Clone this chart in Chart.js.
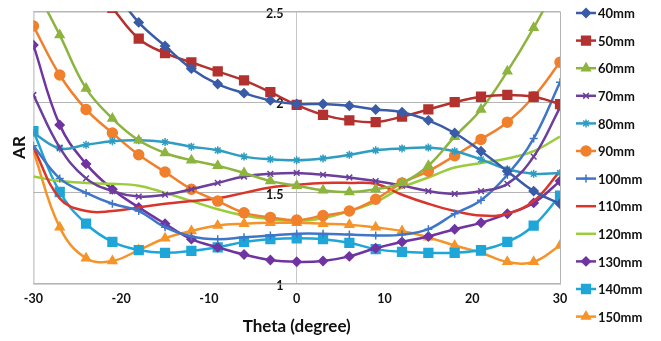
<!DOCTYPE html>
<html>
<head>
<meta charset="utf-8">
<script src="https://cdn.jsdelivr.net/npm/chart.js@4.4.1/dist/chart.umd.min.js"></script>
<style>
    html, body { margin: 0; padding: 0; background: #fff; }
    #wrap { width: 661px; height: 341px; }
</style>
</head>
<body>
<div id="wrap"><canvas id="arChart" width="661" height="341"></canvas></div>
<script>
// theta in degrees, one reading every 3 degrees
const theta = [-30, -27, -24, -21, -18, -15, -12, -9, -6, -3, 0, 3, 6, 9, 12, 15, 18, 21, 24, 27, 30];
const xTicks = [-30, -20, -10, 0, 10, 20, 30];
const yTicks = [1, 1.5, 2, 2.5];

const seriesNames = ['40mm', '50mm', '60mm', '70mm', '80mm', '90mm', '100mm', '110mm', '120mm', '130mm', '140mm', '150mm'];

const ar40 = [3.3, 3.05, 2.85, 2.63, 2.44, 2.31, 2.185, 2.10, 2.05, 2.01, 1.99, 1.99, 1.98, 1.96, 1.945, 1.90, 1.83, 1.73, 1.62, 1.51, 1.44];
const ar50 = [3.1, 2.9, 2.7, 2.52, 2.35, 2.27, 2.22, 2.17, 2.12, 2.055, 1.985, 1.93, 1.90, 1.89, 1.92, 1.96, 2.0, 2.03, 2.04, 2.03, 1.99];
const ar60 = [2.65, 2.37, 2.076, 1.91, 1.79, 1.72, 1.68, 1.65, 1.61, 1.565, 1.54, 1.515, 1.505, 1.52, 1.555, 1.65, 1.81, 1.96, 2.17, 2.41, 2.68];
const ar70 = [2.04, 1.75, 1.58, 1.51, 1.48, 1.49, 1.52, 1.555, 1.59, 1.605, 1.61, 1.60, 1.585, 1.565, 1.54, 1.51, 1.495, 1.51, 1.55, 1.70, 1.97];
const ar80 = [1.83, 1.745, 1.765, 1.785, 1.79, 1.78, 1.755, 1.735, 1.70, 1.685, 1.68, 1.69, 1.71, 1.735, 1.745, 1.75, 1.73, 1.685, 1.63, 1.605, 1.61];
const ar90 = [2.42, 2.15, 1.96, 1.83, 1.71, 1.615, 1.52, 1.455, 1.39, 1.365, 1.35, 1.375, 1.40, 1.465, 1.555, 1.62, 1.705, 1.795, 1.89, 2.03, 2.22];
const ar100 = [1.76, 1.58, 1.50, 1.44, 1.40, 1.31, 1.26, 1.245, 1.255, 1.265, 1.275, 1.275, 1.27, 1.265, 1.27, 1.30, 1.385, 1.46, 1.60, 1.80, 2.11];
const ar110 = [1.75, 1.47, 1.40, 1.40, 1.42, 1.44, 1.455, 1.47, 1.50, 1.53, 1.545, 1.555, 1.555, 1.55, 1.49, 1.44, 1.40, 1.375, 1.385, 1.455, 1.62];
const ar120 = [1.59, 1.565, 1.555, 1.55, 1.54, 1.50, 1.455, 1.41, 1.375, 1.355, 1.345, 1.36, 1.40, 1.45, 1.53, 1.585, 1.64, 1.665, 1.69, 1.73, 1.81];
const ar130 = [2.315, 1.875, 1.66, 1.52, 1.42, 1.33, 1.245, 1.20, 1.16, 1.13, 1.12, 1.125, 1.15, 1.195, 1.23, 1.26, 1.30, 1.335, 1.385, 1.445, 1.565];
const ar140 = [1.84, 1.505, 1.33, 1.23, 1.185, 1.17, 1.18, 1.20, 1.23, 1.245, 1.25, 1.245, 1.225, 1.19, 1.175, 1.17, 1.17, 1.185, 1.23, 1.32, 1.485];
const ar150 = [1.73, 1.31, 1.14, 1.125, 1.185, 1.25, 1.29, 1.32, 1.33, 1.335, 1.335, 1.33, 1.325, 1.31, 1.29, 1.255, 1.21, 1.17, 1.12, 1.12, 1.21];

const allSeries = [ar40, ar50, ar60, ar70, ar80, ar90, ar100, ar110, ar120, ar130, ar140, ar150];

let colors = ['#3a5ca8', '#b3312e', '#8cb43f', '#6b3f9b', '#2f9dc2', '#f0802c',
              '#3f76c8', '#d9352b', '#9bcc3c', '#7034a2', '#1fa6d8', '#f59428'];
// excel style marker set
let markers = ['rectRot', 'rect', 'triangle', 'crossRot', 'star', 'circle',
               'cross', false, false, 'rectRot', 'rect', 'triangle'];
let markerSize = [4.4, 6.2, 5, 4, 4, 5, 4, 0, 0, 4.4, 6.2, 5];

const datasets = allSeries.map((vals, i) => ({
    label: seriesNames[i],
    data: theta.map((t, k) => ({ x: t, y: vals[k] })),
    borderColor: colors[i],
    backgroundColor: colors[i],
    borderWidth: 2.5,
    tension: 0.4,
    pointStyle: markers[i] || 'circle',
    pointRadius: markers[i] ? markerSize[i] : 0,
    pointBorderWidth: 1.5,
    pointHoverRadius: 0
}));

// frame of the plot area
const frame = {
    id: 'frame',
    beforeDatasetsDraw(chart) {
        const a = chart.chartArea;
        const ctx = chart.ctx;
        ctx.save();
        ctx.strokeStyle = '#b5b5b5';
        ctx.lineWidth = 1;
        ctx.strokeRect(a.left + 0.5, a.top + 0.5, a.right - a.left, a.bottom - a.top);
        ctx.restore();
    }
};

// legend drawn by hand: line sample with its marker, then the name
const sideLegend = {
    id: 'sideLegend',
    afterDraw(chart) {
        const ctx = chart.ctx;
        const x0 = chart.chartArea.right + 16;
        const y0 = 13;
        const step = 27.6;
        ctx.save();
        chart.data.datasets.forEach((ds, i) => {
            const y = y0 + i * step;
            ctx.strokeStyle = colors[i];
            ctx.fillStyle = colors[i];
            ctx.lineWidth = 2.5;
            ctx.beginPath();
            ctx.moveTo(x0, y);
            ctx.lineTo(x0 + 20, y);
            ctx.stroke();
            if (markers[i]) {
                ctx.lineWidth = 1.5;
                Chart.helpers.drawPoint(ctx, { pointStyle: markers[i], radius: markerSize[i], rotation: 0, borderWidth: 1.5 }, x0 + 10, y);
            }
            ctx.fillStyle = '#111';
            ctx.font = 'bold 13px Lato';
            ctx.textAlign = 'left';
            ctx.textBaseline = 'middle';
            ctx.fillText(ds.label, x0 + 22, y + 1);
        });
        ctx.restore();
    }
};

const config = {
    type: 'line',
    data: { datasets: datasets },
    options: {
        animation: false,
        responsive: false,
        events: [],
        layout: {
            padding: { left: 9, top: 6, right: 101, bottom: 4 }
        },
        plugins: {
            legend: { display: false },
            tooltip: { enabled: false }
        },
        scales: {
            x: {
                type: 'linear',
                min: -30,
                max: 30,
                afterBuildTicks: function (axis) {
                    axis.ticks = xTicks.map(v => ({ value: v }));
                },
                grid: {
                    drawTicks: false,
                    color: function (ctx) {
                        return ctx.tick && ctx.tick.value === 0 ? '#c8c8c8' : 'transparent';
                    }
                },
                border: { display: false },
                ticks: {
                    padding: 8,
                    color: '#111',
                    font: { family: 'Lato', size: 12.5, weight: 'bold' }
                },
                title: {
                    display: true,
                    text: 'Theta (degree)',
                    color: '#111',
                    padding: { top: 2, bottom: 0 },
                    font: { family: 'Lato', size: 17, weight: 'bold' }
                }
            },
            y: {
                type: 'linear',
                // labels sit just left of the zero line
                position: { x: -1.5 },
                min: 1,
                max: 2.5,
                afterBuildTicks: function (axis) {
                    axis.ticks = yTicks.map(v => ({ value: v }));
                },
                grid: {
                    drawTicks: false,
                    color: '#b5b5b5'
                },
                border: { display: false },
                ticks: {
                    padding: 4,
                    labelOffset: 2,
                    color: '#111',
                    font: { family: 'Lato', size: 12.5, weight: 'bold' },
                    callback: (v) => String(v)
                }
            },
            yTitle: {
                type: 'linear',
                position: 'left',
                display: true,
                grid: { display: false, drawTicks: false },
                border: { display: false },
                ticks: { display: false },
                title: {
                    display: true,
                    text: 'AR',
                    color: '#111',
                    padding: { top: 0, bottom: 4 },
                    font: { family: 'Lato', size: 17, weight: 'bold' }
                }
            }
        }
    },
    plugins: [frame, sideLegend]
};

let arChart = new Chart('arChart', config);
</script>
</body>
</html>
